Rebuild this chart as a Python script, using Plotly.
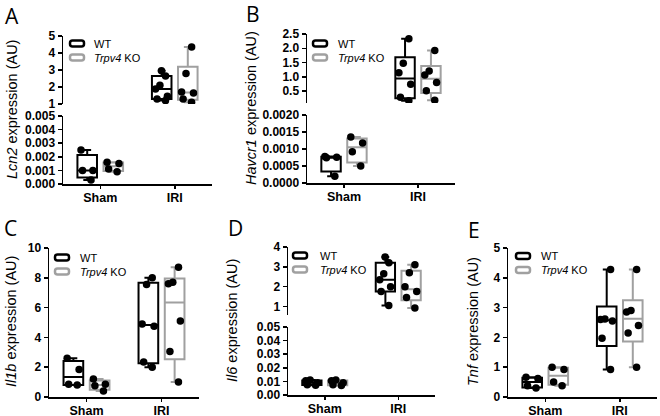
import numpy as np
import plotly.graph_objects as go

W, H = 660, 416

groups = ["Sham", "IRI"]
genotypes = ["WT", "Trpv4 KO"]
geno_colors = {"WT": "#000000", "Trpv4 KO": "#a0a0a0"}

# ---- data (expression, AU) ----
# A: Lcn2
lcn2_wt_sham = [0.0025, 0.0010, 0.0010, 0.0003]
lcn2_ko_sham = [0.0016, 0.0015, 0.0011, 0.0009]
lcn2_wt_iri = [2.95, 2.65, 2.10, 1.88, 1.45, 1.30, 1.20]
lcn2_ko_iri = [4.35, 2.80, 1.70, 1.65, 1.30, 1.10]
# B: Havcr1
havcr1_wt_sham = [0.00078, 0.00076, 0.00074, 0.00020]
havcr1_ko_sham = [0.00135, 0.00118, 0.00092, 0.00050]
havcr1_wt_iri = [2.33, 1.47, 1.14, 0.74, 0.28, 0.16]
havcr1_ko_iri = [1.92, 1.20, 1.06, 0.80, 0.51, 0.18]
# C: Il1b
il1b_wt_sham = [2.60, 1.85, 0.85, 0.80]
il1b_ko_sham = [1.20, 0.85, 0.75, 0.40]
il1b_wt_iri = [8.00, 7.55, 4.90, 4.75, 2.35, 2.00]
il1b_ko_iri = [8.70, 7.70, 7.60, 5.10, 3.05, 1.00]
# D: Il6
il6_wt_sham = [0.0110, 0.0105, 0.0090, 0.0075, 0.0072]
il6_ko_sham = [0.0110, 0.0105, 0.0090, 0.0075, 0.0070]
il6_wt_iri = [3.50, 3.20, 2.65, 2.35, 2.00, 1.75, 1.05]
il6_ko_iri = [3.10, 2.70, 2.00, 1.75, 1.45, 0.92]
# E: Tnf
tnf_wt_sham = [0.66, 0.62, 0.38, 0.30]
tnf_ko_sham = [1.00, 0.92, 0.50, 0.38]
tnf_wt_iri = [4.28, 2.62, 2.60, 2.55, 1.97, 0.92]
tnf_ko_iri = [4.28, 2.90, 2.85, 2.40, 2.15, 1.00]

gene_names = ["Lcn2", "Havcr1", "Il1b", "Il6", "Tnf"]
panel_letters = ["A", "B", "C", "D", "E"]

panel_data = [
    {"Sham": {"WT": lcn2_wt_sham, "Trpv4 KO": lcn2_ko_sham}, "IRI": {"WT": lcn2_wt_iri, "Trpv4 KO": lcn2_ko_iri}},
    {"Sham": {"WT": havcr1_wt_sham, "Trpv4 KO": havcr1_ko_sham}, "IRI": {"WT": havcr1_wt_iri, "Trpv4 KO": havcr1_ko_iri}},
    {"Sham": {"WT": il1b_wt_sham, "Trpv4 KO": il1b_ko_sham}, "IRI": {"WT": il1b_wt_iri, "Trpv4 KO": il1b_ko_iri}},
    {"Sham": {"WT": il6_wt_sham, "Trpv4 KO": il6_ko_sham}, "IRI": {"WT": il6_wt_iri, "Trpv4 KO": il6_ko_iri}},
    {"Sham": {"WT": tnf_wt_sham, "Trpv4 KO": tnf_ko_sham}, "IRI": {"WT": tnf_wt_iri, "Trpv4 KO": tnf_ko_iri}},
]

# ---- layout geometry (pixels) ----
panels = [
    dict(xdom=(63, 212), bottom=dict(dom=(116, 184), rng=(0, 0.005), dtick=0.001, fmt=".3f"),
         top=dict(dom=(36, 104), rng=(1, 5), dtick=1, fmt="d"),
         title_xy=(12, 110), letter_xy=(3, 16), legend_xy=(77, 43.5), text_x=92),
    dict(xdom=(307, 455), bottom=dict(dom=(115, 183), rng=(0, 0.002), dtick=0.0005, fmt=".4f"),
         top=dict(dom=(34, 103), rng=(0.08, 2.5), dtick=0.5, fmt=".1f"),
         title_xy=(251, 108), letter_xy=(244, 14), legend_xy=(320, 43.5), text_x=336),
    dict(xdom=(49, 199), bottom=dict(dom=(248, 397), rng=(0, 10), dtick=2, fmt="d"),
         top=None,
         title_xy=(11, 322), letter_xy=(2, 228), legend_xy=(62, 257.5), text_x=78),
    dict(xdom=(288, 435), bottom=dict(dom=(327, 395), rng=(0, 0.05), dtick=0.01, fmt=".2f"),
         top=dict(dom=(247, 315), rng=(0.57, 4), dtick=1, fmt="d"),
         title_xy=(232, 321), letter_xy=(226, 228), legend_xy=(300, 255.5), text_x=318),
    dict(xdom=(508, 657), bottom=dict(dom=(248, 397), rng=(0, 5), dtick=1, fmt="d"),
         top=None,
         title_xy=(473, 322), letter_xy=(466, 230), legend_xy=(523, 256), text_x=539),
]


def fx(px):
    return px / W


def fy(py):
    return 1 - py / H


def stats(v):
    a = np.asarray(v, dtype=float)
    q1, med, q3 = np.percentile(a, [25, 50, 75], method="weibull")
    return q1, med, q3, a.min(), a.max()


fig = go.Figure()
layout = {}
shapes = []
annotations = []

TICKFONT = dict(family="Liberation Sans, Arial, sans-serif", size=12, color="black", weight="bold")
axis_common = dict(showline=True, linecolor="black", linewidth=1.5, ticks="outside", ticklen=4,
                   tickwidth=1.5, tickcolor="black", showgrid=False, zeroline=False,
                   tickfont=TICKFONT, fixedrange=True, automargin=False)

yidx = 1
for pi, (p, data) in enumerate(zip(panels, panel_data)):
    xname = "xaxis" if pi == 0 else f"xaxis{pi + 1}"
    xref = "x" if pi == 0 else f"x{pi + 1}"
    yb_id = yidx
    yb_ref = "y" if yb_id == 1 else f"y{yb_id}"
    yb_name = "yaxis" if yb_id == 1 else f"yaxis{yb_id}"
    yidx += 1
    yt_ref = None
    if p["top"] is not None:
        yt_id = yidx
        yt_ref = f"y{yt_id}"
        yt_name = f"yaxis{yt_id}"
        yidx += 1

    layout[xname] = dict(axis_common, domain=[fx(p["xdom"][0]), fx(p["xdom"][1])], anchor=yb_ref,
                         type="category", categoryorder="array", categoryarray=groups,
                         range=[-0.5, 1.5], ticklen=3, ticklabelstandoff=-2,
                         tickfont=dict(TICKFONT, size=12.5))
    b = p["bottom"]
    eps = (b["rng"][1] - b["rng"][0]) * 1e-6
    layout[yb_name] = dict(axis_common, domain=[fy(b["dom"][1]), fy(b["dom"][0])], anchor=xref,
                           range=[b["rng"][0], b["rng"][1] + eps], dtick=b["dtick"], tick0=0,
                           tickformat=b["fmt"])
    if yt_ref is not None:
        t = p["top"]
        eps = (t["rng"][1] - t["rng"][0]) * 1e-6
        layout[yt_name] = dict(axis_common, domain=[fy(t["dom"][1]), fy(t["dom"][0])], anchor=xref,
                               range=[t["rng"][0] - eps, t["rng"][1] + eps], dtick=t["dtick"], tick0=0,
                               tickformat=t["fmt"])

    for g in groups:
        yref = yb_ref if (g == "Sham" or yt_ref is None) else yt_ref
        for geno in genotypes:
            vals = data[g][geno]
            q1, med, q3, mn, mx = stats(vals)
            fig.add_trace(go.Box(
                x=[g], q1=[q1], median=[med], q3=[q3], lowerfence=[mn], upperfence=[mx],
                orientation="v", boxpoints=False, xaxis=xref, yaxis=yref,
                line=dict(color=geno_colors[geno], width=2), fillcolor="white",
                whiskerwidth=0.4, offsetgroup=geno, alignmentgroup=f"p{pi}",
                showlegend=False, hoverinfo="skip"))
            fig.add_trace(go.Box(
                x=[g] * len(vals), y=vals, boxpoints="all", jitter=0.75, pointpos=0,
                xaxis=xref, yaxis=yref,
                marker=dict(color="black", size=7.5),
                line=dict(color="rgba(0,0,0,0)", width=0), fillcolor="rgba(0,0,0,0)",
                whiskerwidth=0, offsetgroup=geno, alignmentgroup=f"p{pi}",
                showlegend=False, hoverinfo="skip"))

    # y-axis title
    tx, ty = p["title_xy"]
    annotations.append(dict(x=fx(tx), y=fy(ty), xref="paper", yref="paper", showarrow=False,
                            text=f"<i>{gene_names[pi]}</i> expression (AU)", textangle=-90,
                            font=dict(family="Liberation Sans, Arial, sans-serif", size=14.5, color="black"),
                            xanchor="center", yanchor="middle"))
    # panel letter
    lx, ly = p["letter_xy"]
    annotations.append(dict(x=fx(lx), y=fy(ly), xref="paper", yref="paper", showarrow=False,
                            text=panel_letters[pi], xanchor="left", yanchor="middle",
                            font=dict(family="Open Sans, sans-serif", size=21, color="black")))
    # legend (drawn as decoration)
    cx, cy = p["legend_xy"]
    for k, geno in enumerate(genotypes):
        yy = cy + k * 14
        w2, h2, r = 7, 3, 2.5
        x0, x1, y0, y1 = cx - w2, cx + w2, yy - h2, yy + h2
        path = (f"M{fx(x0 + r)},{fy(y0)} L{fx(x1 - r)},{fy(y0)} Q{fx(x1)},{fy(y0)} {fx(x1)},{fy(y0 + r)} "
                f"L{fx(x1)},{fy(y1 - r)} Q{fx(x1)},{fy(y1)} {fx(x1 - r)},{fy(y1)} "
                f"L{fx(x0 + r)},{fy(y1)} Q{fx(x0)},{fy(y1)} {fx(x0)},{fy(y1 - r)} "
                f"L{fx(x0)},{fy(y0 + r)} Q{fx(x0)},{fy(y0)} {fx(x0 + r)},{fy(y0)} Z")
        shapes.append(dict(type="path", path=path, xref="paper", yref="paper",
                           line=dict(color=geno_colors[geno], width=2.5), fillcolor="white"))
        label = "WT" if geno == "WT" else "<i>Trpv4</i> KO"
        annotations.append(dict(x=fx(p["text_x"]), y=fy(yy), xref="paper", yref="paper", showarrow=False,
                                text=label, xanchor="left", yanchor="middle",
                                font=dict(family="Liberation Sans, Arial, sans-serif", size=11, color="black")))

fig.update_layout(
    width=W, height=H, margin=dict(l=0, r=0, t=0, b=0),
    paper_bgcolor="white", plot_bgcolor="white",
    boxmode="group", boxgap=0.3, boxgroupgap=0.25,
    showlegend=False, shapes=shapes, annotations=annotations,
    **layout,
)

fig.write_html("out.html", config={"displayModeBar": False, "staticPlot": True})

# remove the browser's default page margin so the figure sits at the window's top-left corner
with open("out.html", "r", encoding="utf-8") as fh:
    html = fh.read()
html = html.replace("<head>", "<head><style>html,body{margin:0;padding:0;overflow:hidden;}</style>", 1)
with open("out.html", "w", encoding="utf-8") as fh:
    fh.write(html)
